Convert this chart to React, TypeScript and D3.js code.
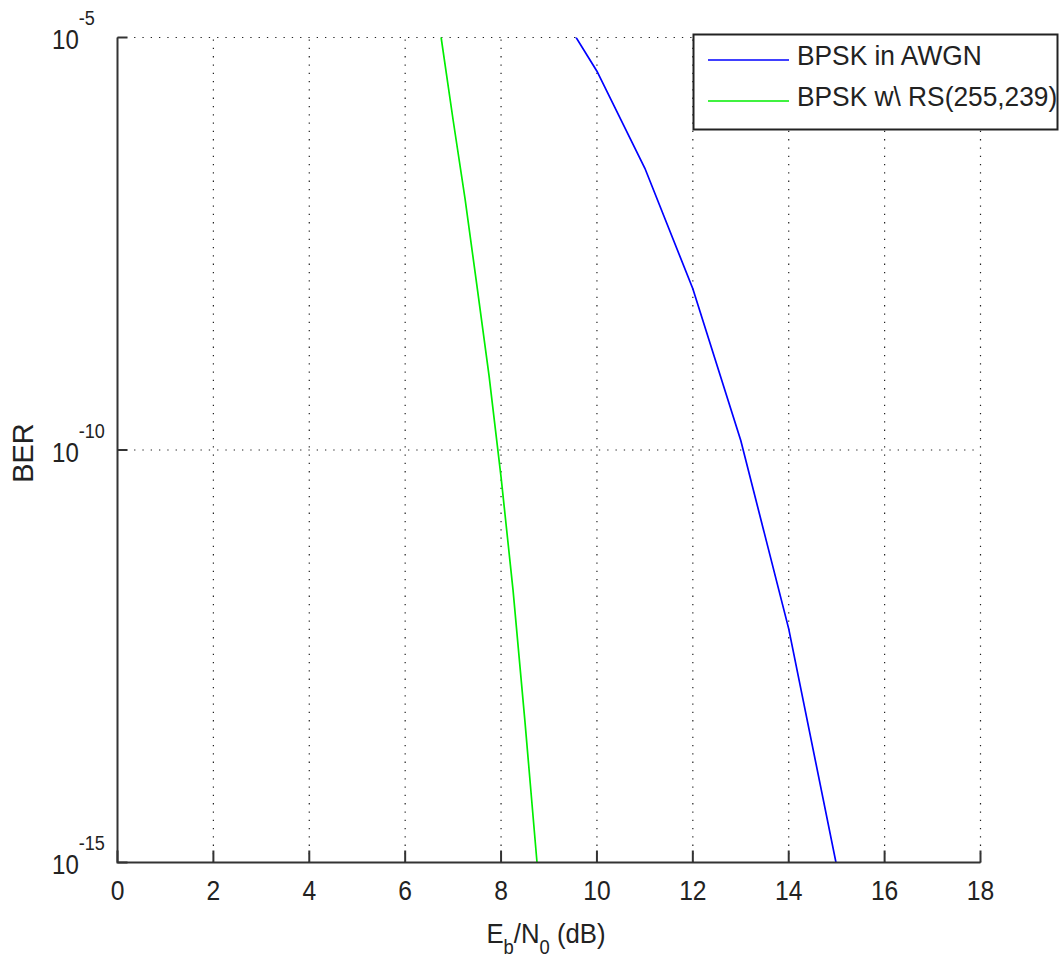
import React, { useEffect, useRef } from 'react';
import * as d3 from 'd3';

// x axis ticks (dB) and y decades shown
const ebNoTicks = [0, 2, 4, 6, 8, 10, 12, 14, 16, 18];
const berExps = [-5, -10, -15];

// BPSK in AWGN
const awgnEbNo = [9, 10, 11, 12, 13, 14, 15, 16];
const awgnBer = [3.4e-5, 3.9e-6, 2.6e-7, 9.0e-9, 1.3e-10, 6.8e-13, 9.1e-16, 2.3e-19];

// BPSK with RS(255,239)
const rsEbNo = [6.5, 6.75, 7.0, 7.25, 7.5, 7.75, 8.0, 8.25, 8.5, 8.75, 9.0];
const rsBer = [8.9e-5, 1.0e-5, 1.0e-6, 1.1e-7, 9.5e-9, 7.9e-10, 4.7e-11, 2.0e-12, 5.0e-14, 1.0e-15, 1.6e-17];

const seriesNames = ['BPSK in AWGN', 'BPSK w\\ RS(255,239)'];
const seriesColors = ['#0000ff', '#00ee00'];

const FONT = '"Liberation Sans", Arial, sans-serif';

const App = () => {
  const ref = useRef<SVGSVGElement>(null);

  useEffect(() => {
    const svg = d3.select(ref.current);
    svg.selectAll('*').remove();

    const left = 117.5, right = 980.5, top = 37.5, bottom = 862.5;

    const x = d3.scaleLinear().domain([0, 18]).range([left, right]);
    const y = d3.scaleLog().domain([1e-15, 1e-5]).range([bottom, top]);

    svg.append('defs').append('clipPath').attr('id', 'plotclip')
      .append('rect').attr('x', left).attr('y', top).attr('width', right - left).attr('height', bottom - top);

    // grid
    const grid = svg.append('g').attr('stroke', '#222').attr('stroke-width', 1.2).attr('stroke-dasharray', '1.3,7');
    ebNoTicks.filter((d) => d > 0).forEach((d) => {
      grid.append('line').attr('x1', x(d)).attr('x2', x(d)).attr('y1', bottom).attr('y2', top);
    });
    berExps.filter((e) => e > -15).forEach((e) => {
      grid.append('line').attr('x1', left).attr('x2', right).attr('y1', y(Math.pow(10, e))).attr('y2', y(Math.pow(10, e)));
    });

    // curves
    const line = d3.line<[number, number]>().x((d) => x(d[0])).y((d) => y(d[1]));
    const curves = svg.append('g').attr('clip-path', 'url(#plotclip)');
    [
      awgnEbNo.map((v, i) => [v, awgnBer[i]] as [number, number]),
      rsEbNo.map((v, i) => [v, rsBer[i]] as [number, number]),
    ].forEach((pts, i) => {
      curves.append('path').attr('d', line(pts)).attr('fill', 'none')
        .attr('stroke', seriesColors[i]).attr('stroke-width', 1.7);
    });

    // axes
    const axis = svg.append('g').attr('stroke', '#333').attr('stroke-width', 2).attr('fill', 'none');
    axis.append('path').attr('d', `M${left},${top}V${bottom}H${right}`);
    ebNoTicks.forEach((d) => {
      axis.append('line').attr('x1', x(d)).attr('x2', x(d)).attr('y1', bottom).attr('y2', bottom - 12);
    });
    berExps.forEach((e) => {
      axis.append('line').attr('x1', left).attr('x2', left + 10).attr('y1', y(Math.pow(10, e))).attr('y2', y(Math.pow(10, e)));
    });

    const txt = svg.append('g').attr('font-family', FONT).attr('fill', '#222');
    // text squeezed horizontally like the reference's narrow font
    const label = (px: number, py: number, size: number, sx: number, anchor = 'start') =>
      txt.append('text').attr('transform', `translate(${px},${py}) scale(${sx},1)`)
        .attr('text-anchor', anchor).attr('font-size', size);

    ebNoTicks.forEach((d) => {
      label(x(d), 900, 28, 0.88, 'middle').text(d);
    });

    berExps.forEach((e) => {
      const yy = y(Math.pow(10, e));
      const t = label(52, yy + 11.5, 28, 0.86);
      t.append('tspan').text('10');
      t.append('tspan').attr('font-size', 21).attr('dy', -24).text(String(e));
    });

    // axis titles
    txt.append('text').attr('transform', `translate(33,${(top + bottom) / 2 + 3}) rotate(-90)`)
      .attr('text-anchor', 'middle').attr('font-size', 29).text('BER');

    const xl = label((left + right) / 2 - 3, 943, 28, 0.92, 'middle');
    xl.append('tspan').text('E');
    xl.append('tspan').attr('font-size', 20).attr('dy', 11).text('b');
    xl.append('tspan').attr('dy', -11).text('/N');
    xl.append('tspan').attr('font-size', 20).attr('dy', 11).text('0');
    xl.append('tspan').attr('dy', -11).text(' (dB)');

    // legend
    const lg = svg.append('g');
    lg.append('rect').attr('x', 693.5).attr('y', 34.5).attr('width', 364).attr('height', 95)
      .attr('fill', '#fff').attr('stroke', '#222').attr('stroke-width', 2);
    seriesNames.forEach((name, i) => {
      const ly = 60 + i * 41;
      lg.append('line').attr('x1', 708).attr('x2', 789).attr('y1', ly).attr('y2', ly)
        .attr('stroke', seriesColors[i]).attr('stroke-width', 1.7);
      lg.append('text').attr('transform', `translate(797,${ly + 4.5}) scale(0.94,1)`).attr('font-family', FONT)
        .attr('font-size', 28).attr('fill', '#222').text(name);
    });
  }, []);

  return (
    <div style={{ position: 'absolute', left: 0, top: 0 }}>
      <svg ref={ref} width={1063} height={958} style={{ display: 'block', background: '#fff' }} />
    </div>
  );
};

export default App;
